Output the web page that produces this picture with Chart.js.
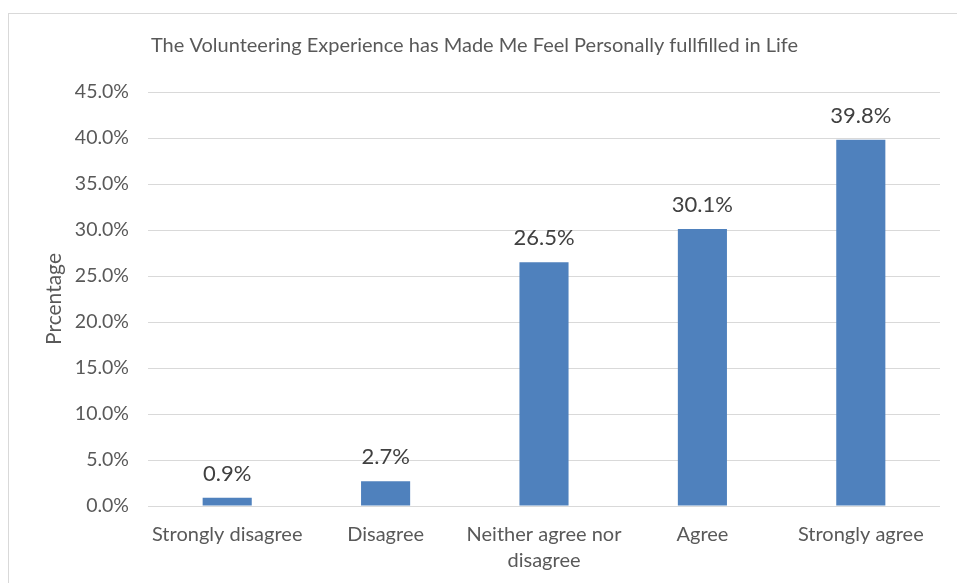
<!DOCTYPE html>
<html>
<head>
<meta charset="utf-8">
<script src="https://cdn.jsdelivr.net/npm/chart.js@4"></script>
<style>
  html, body { margin: 0; padding: 0; background: #fff; overflow: hidden; width: 957px; height: 583px; }
  #frame { position: absolute; left: 8px; top: 13px; width: 958px; height: 600px; border: 1px solid #d9d9d9; box-sizing: border-box; overflow: hidden; }
  #c { position: absolute; left: 0; top: 0; }
</style>
</head>
<body>
<div id="frame"><canvas id="c" width="956" height="576"></canvas></div>
<script>
const titleText = 'The Volunteering Experience has Made Me Feel Personally fullfilled in Life';
const yAxisTitle = 'Prcentage';
const categories = ['Strongly disagree', 'Disagree', ['Neither agree nor', 'disagree'], 'Agree', 'Strongly agree'];
const values = [0.9, 2.7, 26.5, 30.1, 39.8];
const yMin = 0, yMax = 45, yStep = 5;

const FONT = 'Lato, "Open Sans", sans-serif';

const dataLabels = {
  id: 'dataLabels',
  afterDatasetsDraw(chart) {
    const ctx = chart.ctx;
    const meta = chart.getDatasetMeta(0);
    ctx.save();
    ctx.font = '22px ' + FONT;
    ctx.fillStyle = '#404040';
    ctx.textAlign = 'center';
    ctx.textBaseline = 'alphabetic';
    meta.data.forEach((bar, i) => {
      ctx.fillText(values[i].toFixed(1) + '%', bar.x, bar.y - 17);
    });
    ctx.restore();
  }
};

new Chart(document.getElementById('c'), {
  type: 'bar',
  data: {
    labels: categories,
    datasets: [{
      data: values,
      backgroundColor: '#4F81BD',
      borderWidth: 0,
      categoryPercentage: 1,
      barPercentage: 0.31
    }]
  },
  options: {
    responsive: false,
    animation: false,
    devicePixelRatio: 1,
    layout: { padding: { left: 0, right: 25, top: 0, bottom: 8 } },
    plugins: {
      legend: { display: false },
      tooltip: { enabled: false },
      title: {
        display: true,
        text: titleText,
        color: '#595959',
        font: { family: FONT, size: 20, weight: 'normal' },
        padding: { top: 20, bottom: 34 }
      }
    },
    scales: {
      x: {
        grid: { display: false },
        border: { display: false },
        ticks: {
          color: '#595959',
          font: { family: FONT, size: 20, lineHeight: 1.3 },
          padding: 8,
          maxRotation: 0,
          autoSkip: false
        }
      },
      y: {
        min: yMin,
        max: yMax,
        border: { display: false },
        grid: { color: '#d9d9d9', lineWidth: 1, drawTicks: false },
        ticks: {
          stepSize: yStep,
          color: '#595959',
          font: { family: FONT, size: 19.5 },
          padding: 19,
          callback: v => v.toFixed(1) + '%'
        },
        title: {
          display: true,
          text: yAxisTitle,
          color: '#595959',
          font: { family: FONT, size: 21 },
          padding: { top: 33, bottom: 0 }
        },
        afterFit(scale) { scale.width = 139; }
      }
    }
  },
  plugins: [dataLabels]
});
</script>
</body>
</html>
